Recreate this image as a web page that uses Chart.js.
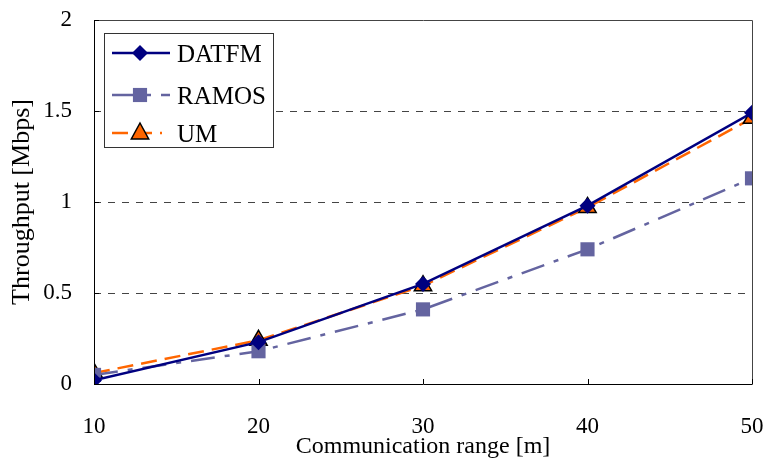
<!DOCTYPE html>
<html>
<head>
<meta charset="utf-8">
<script src="https://cdn.jsdelivr.net/npm/chart.js@4"></script>
<style>
  html, body { margin: 0; padding: 0; background: #fff; }
  #wrap { width: 766px; height: 461px; }
</style>
</head>
<body>
<div id="wrap"><canvas id="chart" width="766" height="461"></canvas></div>
<script>
// data
const ranges = [10, 20, 30, 40, 50];
const datfm = [0.02, 0.23, 0.55, 0.98, 1.49];
const ramos = [0.05, 0.18, 0.41, 0.74, 1.13];
const um = [0.06, 0.24, 0.54, 0.97, 1.46];
const yTicks = [0, 0.5, 1, 1.5, 2];

const FONT = 'Liberation Serif';

function toPoints(vals) {
    return ranges.map((x, i) => ({ x: x, y: vals[i] }));
}

// frame, inner tick marks and legend box
const framePlugin = {
    id: 'frame',
    afterDatasetsDraw(chart) {
        const { ctx, chartArea: a, scales } = chart;
        ctx.save();
        ctx.strokeStyle = '#000';
        ctx.lineWidth = 1;
        ctx.beginPath();
        ctx.moveTo(a.left + 0.5, a.top + 0.5);
        ctx.lineTo(a.left + 0.5, a.bottom + 0.5);
        ctx.lineTo(a.right + 0.5, a.bottom + 0.5);
        ctx.stroke();
        ctx.strokeStyle = '#444';
        ctx.beginPath();
        ctx.moveTo(a.left + 0.5, a.top + 0.5);
        ctx.lineTo(a.right + 0.5, a.top + 0.5);
        ctx.lineTo(a.right + 0.5, a.bottom + 0.5);
        ctx.stroke();
        ctx.strokeStyle = '#000';
        ctx.beginPath();
        ranges.forEach(v => {
            const x = Math.round(scales.x.getPixelForValue(v)) + 0.5;
            ctx.moveTo(x, a.bottom);
            ctx.lineTo(x, a.bottom - 5);
        });
        yTicks.forEach(v => {
            const y = Math.round(scales.y.getPixelForValue(v)) + 0.5;
            ctx.moveTo(a.left, y);
            ctx.lineTo(a.left + 5, y);
        });
        ctx.stroke();
        ctx.restore();
    },
    afterDraw(chart) {
        const { ctx, chartArea: a } = chart;
        const bx = a.left + 10, by = a.top + 13, bw = 169, bh = 114;
        ctx.save();
        ctx.fillStyle = '#fff';
        ctx.fillRect(bx, by, bw, bh);
        ctx.strokeStyle = '#333';
        ctx.lineWidth = 1;
        ctx.strokeRect(bx + 0.5, by + 0.5, bw, bh);
        const rows = [by + 20, by + 62, by + 100];
        const ends = [66, 66, 58];
        chart.data.datasets.forEach((ds, i) => {
            const y = rows[i];
            ctx.strokeStyle = ds.borderColor;
            ctx.lineWidth = ds.borderWidth;
            ctx.setLineDash(ds.borderDash || []);
            ctx.beginPath();
            ctx.moveTo(bx + 8, y);
            ctx.lineTo(bx + ends[i], y);
            ctx.stroke();
            ctx.setLineDash([]);
            drawMarker(ctx, ds, bx + 36, y);
            ctx.fillStyle = '#000';
            ctx.font = '25px "' + FONT + '"';
            ctx.textBaseline = 'middle';
            ctx.fillText(ds.label, bx + 73, y + 2);
        });
        ctx.restore();
    }
};

function drawMarker(ctx, ds, x, y) {
    const r = ds.pointRadius;
    ctx.fillStyle = ds.pointBackgroundColor;
    ctx.strokeStyle = ds.pointBorderColor;
    ctx.lineWidth = ds.pointBorderWidth;
    ctx.beginPath();
    if (ds.pointStyle === 'rectRot') {
        ctx.moveTo(x, y - r); ctx.lineTo(x + r, y); ctx.lineTo(x, y + r); ctx.lineTo(x - r, y);
    } else if (ds.pointStyle === 'rect') {
        const s = r * Math.SQRT1_2;
        ctx.rect(x - s, y - s, 2 * s, 2 * s);
    } else {
        ctx.moveTo(x, y - r); ctx.lineTo(x + r * 0.87, y + r * 0.6); ctx.lineTo(x - r * 0.87, y + r * 0.6);
    }
    ctx.closePath();
    ctx.fill();
    if (ds.pointBorderWidth) ctx.stroke();
}

const ctx = document.getElementById('chart').getContext('2d');
const chart = new Chart(ctx, {
    type: 'line',
    data: {
        datasets: [{
            label: 'DATFM',
            data: toPoints(datfm),
            borderColor: '#000080',
            borderWidth: 2.5,
            pointStyle: 'rectRot',
            pointRadius: 8,
            pointBackgroundColor: '#000080',
            pointBorderColor: '#000080',
            pointBorderWidth: 0
        }, {
            label: 'RAMOS',
            data: toPoints(ramos),
            borderColor: '#6464a0',
            borderWidth: 2.5,
            borderDash: [24, 10, 5, 10],
            pointStyle: 'rect',
            pointRadius: 10,
            pointBackgroundColor: '#6464a0',
            pointBorderColor: '#6464a0',
            pointBorderWidth: 0
        }, {
            label: 'UM',
            data: toPoints(um),
            borderColor: '#ff6600',
            borderWidth: 2.5,
            borderDash: [16, 8],
            pointStyle: 'triangle',
            pointRadius: 10,
            pointBackgroundColor: '#ff6600',
            pointBorderColor: '#000',
            pointBorderWidth: 1.5
        }]
    },
    options: {
        responsive: false,
        animation: false,
        layout: { padding: { top: 20, right: 14, left: 0, bottom: 0 } },
        plugins: { legend: { display: false }, tooltip: { enabled: false } },
        scales: {
            x: {
                type: 'linear',
                min: 10,
                max: 50,
                afterBuildTicks: (s) => { s.ticks = ranges.map(v => ({ value: v })); },
                afterFit: (s) => { s.height = 77; s.paddingLeft = 0; s.paddingRight = 0; },
                grid: { display: false },
                border: { display: false },
                ticks: { color: '#000', font: { family: FONT, size: 23 }, padding: 21 },
                title: {
                    display: true,
                    text: 'Communication range [m]',
                    color: '#000',
                    font: { family: FONT, size: 24 },
                    padding: { top: 0, bottom: 0 }
                }
            },
            y: {
                min: 0,
                max: 2,
                afterBuildTicks: (s) => { s.ticks = yTicks.map(v => ({ value: v })); },
                afterFit: (s) => { s.width = 94; s.paddingTop = 0; s.paddingBottom = 0; },
                grid: {
                    drawTicks: false,
                    color: (c) => (c.tick && (c.tick.value === 0 || c.tick.value === 2)) ? 'rgba(0,0,0,0)' : '#444',
                    lineWidth: 1
                },
                border: { display: false, dash: [7, 7] },
                ticks: {
                    color: '#000',
                    font: { family: FONT, size: 23 },
                    padding: 22,
                    callback: (v) => String(v)
                },
                title: {
                    display: true,
                    text: 'Throughput [Mbps]',
                    color: '#000',
                    font: { family: FONT, size: 26 },
                    padding: { top: 7, bottom: 0 }
                }
            }
        }
    },
    plugins: [framePlugin]
});
</script>
</body>
</html>
